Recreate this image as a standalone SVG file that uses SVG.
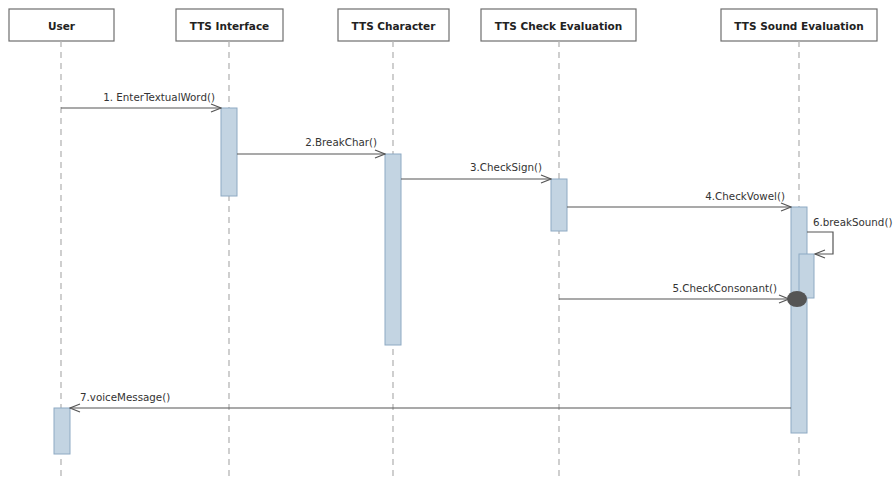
<svg xmlns="http://www.w3.org/2000/svg" width="895" height="479" viewBox="0 0 895 479">
<style>
.hdr{fill:#fff;stroke:#6e6e6e;stroke-width:1.2}
.ht{font-family:"DejaVu Sans",Verdana,sans-serif;font-weight:bold;font-size:10.5px;fill:#222;text-anchor:middle}
.life{stroke:#b5b5b5;stroke-width:1.3;stroke-dasharray:6,5;fill:none}
.act{fill:#c3d4e2;stroke:#8eaac3;stroke-width:1}
.msg{stroke:#555;stroke-width:1.2;fill:none}
.lbl{font-family:"DejaVu Sans",Verdana,sans-serif;font-size:10.3px;fill:#333}
</style>
<defs>
<marker id="open" markerWidth="12" markerHeight="10" refX="11" refY="5" orient="auto" markerUnits="userSpaceOnUse">
<path d="M1,1 L11,5 L1,9" fill="none" stroke="#555" stroke-width="1.2"/>
</marker>
</defs>
<rect width="895" height="479" fill="#fff"/>
<g id="user">
<rect class="hdr" x="9" y="9" width="105" height="32"/>
<text class="ht" x="61.5" y="30">User</text>
<line class="life" x1="61" y1="41" x2="61" y2="479"/>
<rect class="act" x="54" y="408" width="16" height="46"/>
</g>
<g id="tts-interface">
<rect class="hdr" x="176" y="9" width="107" height="32"/>
<text class="ht" x="229.5" y="30">TTS Interface</text>
<line class="life" x1="229" y1="41" x2="229" y2="479"/>
<rect class="act" x="221" y="108" width="16" height="88"/>
</g>
<g id="tts-character">
<rect class="hdr" x="338" y="9" width="111" height="32"/>
<text class="ht" x="393.5" y="30">TTS Character</text>
<line class="life" x1="393" y1="41" x2="393" y2="479"/>
<rect class="act" x="385" y="154" width="16" height="191"/>
</g>
<g id="tts-check-evaluation">
<rect class="hdr" x="481" y="9" width="155" height="32"/>
<text class="ht" x="558.5" y="30">TTS Check Evaluation</text>
<line class="life" x1="559" y1="41" x2="559" y2="479"/>
<rect class="act" x="551" y="179" width="16" height="52"/>
</g>
<g id="tts-sound-evaluation">
<rect class="hdr" x="721" y="9" width="156" height="32"/>
<text class="ht" x="799" y="30">TTS Sound Evaluation</text>
<line class="life" x1="799" y1="41" x2="799" y2="479"/>
<rect class="act" x="791" y="207" width="16" height="226"/>
<rect class="act" x="799" y="254" width="15" height="44"/>
</g>
<g id="connectors">
<line class="msg" x1="61" y1="108" x2="221" y2="108" marker-end="url(#open)"/>
<text class="lbl" x="215" y="101" text-anchor="end">1. EnterTextualWord()</text>
<line class="msg" x1="237" y1="154" x2="385" y2="154" marker-end="url(#open)"/>
<text class="lbl" x="377" y="146" text-anchor="end">2.BreakChar()</text>
<line class="msg" x1="401" y1="179" x2="551" y2="179" marker-end="url(#open)"/>
<text class="lbl" x="542" y="171" text-anchor="end">3.CheckSign()</text>
<line class="msg" x1="567" y1="207" x2="791" y2="207" marker-end="url(#open)"/>
<text class="lbl" x="785" y="200" text-anchor="end">4.CheckVowel()</text>
<polyline class="msg" points="807,232 833,232 833,254 815,254" marker-end="url(#open)"/>
<text class="lbl" x="813" y="226">6.breakSound()</text>
<line class="msg" x1="559" y1="299" x2="789" y2="299" marker-end="url(#open)"/>
<ellipse cx="797" cy="299" rx="10" ry="8" fill="#555"/>
<text class="lbl" x="777" y="292" text-anchor="end">5.CheckConsonant()</text>
<line class="msg" x1="791" y1="408" x2="70" y2="408" marker-end="url(#open)"/>
<text class="lbl" x="80" y="401">7.voiceMessage()</text>
</g>
</svg>
